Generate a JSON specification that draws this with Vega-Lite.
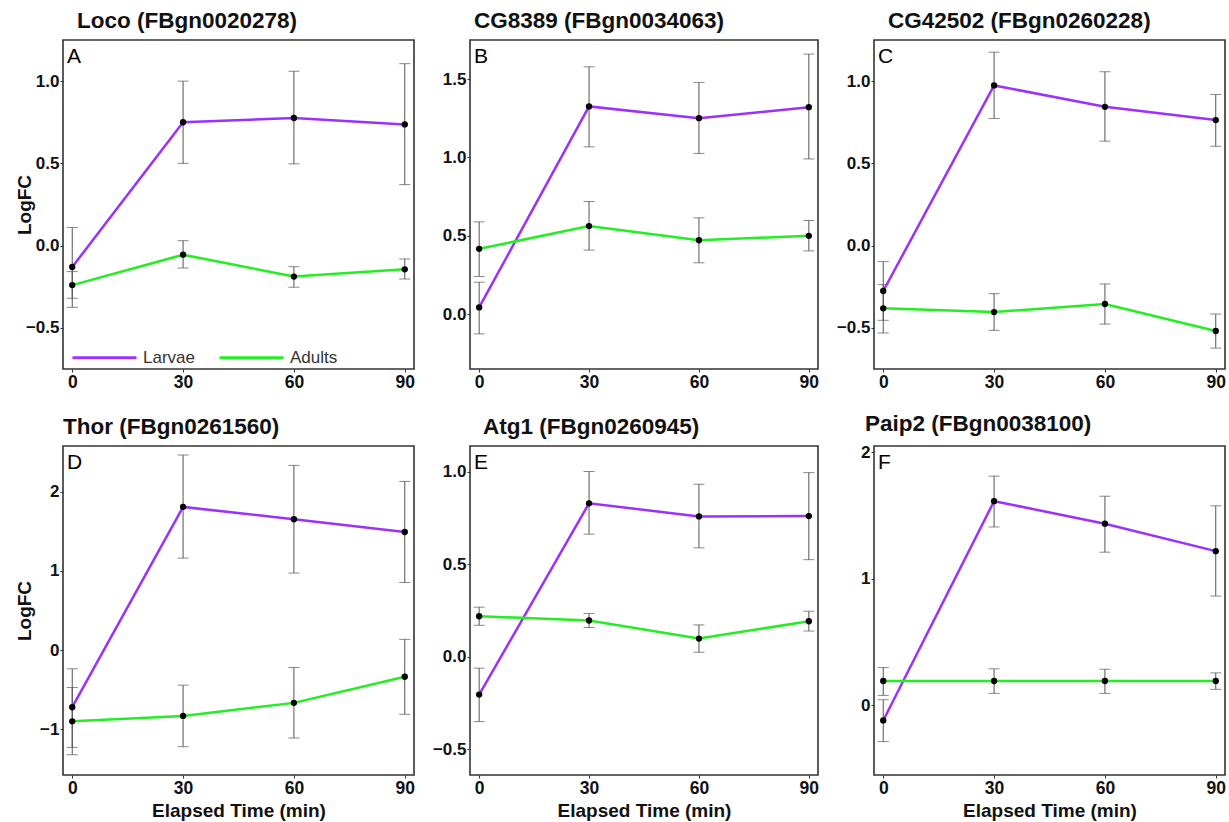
{
  "$schema": "https://vega.github.io/schema/vega-lite/v6.json",
  "autosize": {"type": "pad"},
  "padding": {"left": 14, "top": 8, "right": 2, "bottom": 2},
  "background": "white",
  "datasets": {
    "d": [
      {"p": "A", "s": "Larvae", "t": 0, "m": -0.13, "lo": -0.375, "hi": 0.11},
      {"p": "A", "s": "Larvae", "t": 30, "m": 0.75, "lo": 0.5, "hi": 1.0},
      {"p": "A", "s": "Larvae", "t": 60, "m": 0.776, "lo": 0.497, "hi": 1.06},
      {"p": "A", "s": "Larvae", "t": 90, "m": 0.737, "lo": 0.371, "hi": 1.106},
      {"p": "A", "s": "Adults", "t": 0, "m": -0.24, "lo": -0.32, "hi": -0.158},
      {"p": "A", "s": "Adults", "t": 30, "m": -0.055, "lo": -0.136, "hi": 0.03},
      {"p": "A", "s": "Adults", "t": 60, "m": -0.188, "lo": -0.253, "hi": -0.128},
      {"p": "A", "s": "Adults", "t": 90, "m": -0.144, "lo": -0.203, "hi": -0.081},
      {"p": "B", "s": "Larvae", "t": 0, "m": 0.043, "lo": -0.126, "hi": 0.204},
      {"p": "B", "s": "Larvae", "t": 30, "m": 1.326, "lo": 1.068, "hi": 1.579},
      {"p": "B", "s": "Larvae", "t": 60, "m": 1.251, "lo": 1.026, "hi": 1.479},
      {"p": "B", "s": "Larvae", "t": 90, "m": 1.321, "lo": 0.991, "hi": 1.66},
      {"p": "B", "s": "Adults", "t": 0, "m": 0.417, "lo": 0.24, "hi": 0.589},
      {"p": "B", "s": "Adults", "t": 30, "m": 0.562, "lo": 0.409, "hi": 0.719},
      {"p": "B", "s": "Adults", "t": 60, "m": 0.472, "lo": 0.328, "hi": 0.615},
      {"p": "B", "s": "Adults", "t": 90, "m": 0.5, "lo": 0.404, "hi": 0.598},
      {"p": "C", "s": "Larvae", "t": 0, "m": -0.276, "lo": -0.454, "hi": -0.097},
      {"p": "C", "s": "Larvae", "t": 30, "m": 0.974, "lo": 0.773, "hi": 1.176},
      {"p": "C", "s": "Larvae", "t": 60, "m": 0.844, "lo": 0.635, "hi": 1.057},
      {"p": "C", "s": "Larvae", "t": 90, "m": 0.763, "lo": 0.604, "hi": 0.919},
      {"p": "C", "s": "Adults", "t": 0, "m": -0.381, "lo": -0.531, "hi": -0.237},
      {"p": "C", "s": "Adults", "t": 30, "m": -0.404, "lo": -0.515, "hi": -0.292},
      {"p": "C", "s": "Adults", "t": 60, "m": -0.355, "lo": -0.477, "hi": -0.233},
      {"p": "C", "s": "Adults", "t": 90, "m": -0.519, "lo": -0.623, "hi": -0.416},
      {"p": "D", "s": "Larvae", "t": 0, "m": -0.723, "lo": -1.231, "hi": -0.237},
      {"p": "D", "s": "Larvae", "t": 30, "m": 1.81, "lo": 1.163, "hi": 2.466},
      {"p": "D", "s": "Larvae", "t": 60, "m": 1.654, "lo": 0.973, "hi": 2.335},
      {"p": "D", "s": "Larvae", "t": 90, "m": 1.493, "lo": 0.854, "hi": 2.132},
      {"p": "D", "s": "Adults", "t": 0, "m": -0.901, "lo": -1.324, "hi": -0.474},
      {"p": "D", "s": "Adults", "t": 30, "m": -0.833, "lo": -1.222, "hi": -0.444},
      {"p": "D", "s": "Adults", "t": 60, "m": -0.668, "lo": -1.112, "hi": -0.22},
      {"p": "D", "s": "Adults", "t": 90, "m": -0.338, "lo": -0.812, "hi": 0.135},
      {"p": "E", "s": "Larvae", "t": 0, "m": -0.205, "lo": -0.351, "hi": -0.062},
      {"p": "E", "s": "Larvae", "t": 30, "m": 0.83, "lo": 0.663, "hi": 1.002},
      {"p": "E", "s": "Larvae", "t": 60, "m": 0.759, "lo": 0.589, "hi": 0.933},
      {"p": "E", "s": "Larvae", "t": 90, "m": 0.761, "lo": 0.525, "hi": 0.996},
      {"p": "E", "s": "Adults", "t": 0, "m": 0.219, "lo": 0.17, "hi": 0.268},
      {"p": "E", "s": "Adults", "t": 30, "m": 0.196, "lo": 0.158, "hi": 0.234},
      {"p": "E", "s": "Adults", "t": 60, "m": 0.098, "lo": 0.024, "hi": 0.172},
      {"p": "E", "s": "Adults", "t": 90, "m": 0.192, "lo": 0.139, "hi": 0.246},
      {"p": "F", "s": "Larvae", "t": 0, "m": -0.119, "lo": -0.286, "hi": 0.045},
      {"p": "F", "s": "Larvae", "t": 30, "m": 1.614, "lo": 1.41, "hi": 1.812},
      {"p": "F", "s": "Larvae", "t": 60, "m": 1.436, "lo": 1.211, "hi": 1.653},
      {"p": "F", "s": "Larvae", "t": 90, "m": 1.219, "lo": 0.864, "hi": 1.577},
      {"p": "F", "s": "Adults", "t": 0, "m": 0.193, "lo": 0.079, "hi": 0.299},
      {"p": "F", "s": "Adults", "t": 30, "m": 0.193, "lo": 0.095, "hi": 0.289},
      {"p": "F", "s": "Adults", "t": 60, "m": 0.193, "lo": 0.095, "hi": 0.286},
      {"p": "F", "s": "Adults", "t": 90, "m": 0.193, "lo": 0.127, "hi": 0.257}
    ]
  },
  "columns": 3,
  "spacing": {"row": 77, "column": 56},
  "bounds": "flush",
  "resolve": {"scale": {"color": "independent"}, "legend": {"color": "independent"}},
  "concat": [
    {
      "width": 351, "height": 329,
      "data": {"name": "d"},
      "title": {"text": "Loco (FBgn0020278)", "dx": 14},
      "transform": [{"filter": "datum.p === 'A'"}],
      "encoding": {
        "x": {"field": "t", "type": "quantitative", "scale": {"domain": [-2.5, 92.5], "nice": false, "zero": false}, "axis": {"values": [0, 30, 60, 90], "title": null}},
        "y": {"field": "m", "type": "quantitative", "scale": {"domain": [-0.75, 1.25], "nice": false, "zero": false}, "axis": {"values": [-0.5, 0, 0.5, 1], "format": ".1f", "title": "LogFC", "titleX": -29, "titleY": 164.5}}
      },
      "layer": [
        {"mark": {"type": "errorbar", "color": "#555", "thickness": 1, "ticks": {"size": 11, "thickness": 1, "color": "#555"}},
         "encoding": {"y": {"field": "lo", "type": "quantitative", "scale": {"domain": [-0.75, 1.25], "nice": false, "zero": false}, "axis": {"values": [-0.5, 0, 0.5, 1], "format": ".1f", "title": "LogFC", "titleX": -29, "titleY": 164.5}}, "y2": {"field": "hi"}}},
        {"mark": {"type": "line", "strokeWidth": 2.5},
         "encoding": {"color": {"field": "s", "type": "nominal", "scale": {"domain": ["Larvae", "Adults"], "range": ["#9b30ff", "#22ee22"]},
           "legend": {"title": null, "orient": "none", "legendX": 8, "legendY": 284, "direction": "horizontal", "symbolType": "stroke", "symbolSize": 4096, "symbolStrokeWidth": 3, "labelFontSize": 17, "labelFont": "Liberation Sans", "labelColor": "#333", "labelOffset": 5, "columnPadding": 18, "padding": 0}}}},
        {"mark": {"type": "circle", "size": 40, "color": "black", "opacity": 1}},
        {"transform": [{"filter": "datum.t === 0 && datum.s === 'Larvae'"}],
         "mark": {"type": "text", "text": "A", "align": "left", "baseline": "top", "dx": 4, "dy": 6, "fontSize": 21, "font": "Liberation Sans", "color": "black"},
         "encoding": {"x": {"datum": -2.5}, "y": {"datum": 1.25}}}
      ]
    },
    {
      "width": 348, "height": 329,
      "data": {"name": "d"},
      "title": {"text": "CG8389 (FBgn0034063)", "dx": 4},
      "transform": [{"filter": "datum.p === 'B'"}],
      "encoding": {
        "x": {"field": "t", "type": "quantitative", "scale": {"domain": [-2.5, 92.5], "nice": false, "zero": false}, "axis": {"values": [0, 30, 60, 90], "title": null}},
        "y": {"field": "m", "type": "quantitative", "scale": {"domain": [-0.35, 1.75], "nice": false, "zero": false}, "axis": {"values": [0, 0.5, 1, 1.5], "format": ".1f", "title": null}}
      },
      "layer": [
        {"mark": {"type": "errorbar", "color": "#555", "thickness": 1, "ticks": {"size": 11, "thickness": 1, "color": "#555"}},
         "encoding": {"y": {"field": "lo", "type": "quantitative", "scale": {"domain": [-0.35, 1.75], "nice": false, "zero": false}, "axis": {"values": [0, 0.5, 1, 1.5], "format": ".1f", "title": null}}, "y2": {"field": "hi"}}},
        {"mark": {"type": "line", "strokeWidth": 2.5},
         "encoding": {"color": {"field": "s", "type": "nominal", "scale": {"domain": ["Larvae", "Adults"], "range": ["#9b30ff", "#22ee22"]}, "legend": null}}},
        {"mark": {"type": "circle", "size": 40, "color": "black", "opacity": 1}},
        {"transform": [{"filter": "datum.t === 0 && datum.s === 'Larvae'"}],
         "mark": {"type": "text", "text": "B", "align": "left", "baseline": "top", "dx": 4, "dy": 6, "fontSize": 21, "font": "Liberation Sans", "color": "black"},
         "encoding": {"x": {"datum": -2.5}, "y": {"datum": 1.75}}}
      ]
    },
    {
      "width": 351, "height": 329,
      "data": {"name": "d"},
      "title": {"text": "CG42502 (FBgn0260228)", "dx": 14},
      "transform": [{"filter": "datum.p === 'C'"}],
      "encoding": {
        "x": {"field": "t", "type": "quantitative", "scale": {"domain": [-2.5, 92.5], "nice": false, "zero": false}, "axis": {"values": [0, 30, 60, 90], "title": null}},
        "y": {"field": "m", "type": "quantitative", "scale": {"domain": [-0.75, 1.25], "nice": false, "zero": false}, "axis": {"values": [-0.5, 0, 0.5, 1], "format": ".1f", "title": null}}
      },
      "layer": [
        {"mark": {"type": "errorbar", "color": "#555", "thickness": 1, "ticks": {"size": 11, "thickness": 1, "color": "#555"}},
         "encoding": {"y": {"field": "lo", "type": "quantitative", "scale": {"domain": [-0.75, 1.25], "nice": false, "zero": false}, "axis": {"values": [-0.5, 0, 0.5, 1], "format": ".1f", "title": null}}, "y2": {"field": "hi"}}},
        {"mark": {"type": "line", "strokeWidth": 2.5},
         "encoding": {"color": {"field": "s", "type": "nominal", "scale": {"domain": ["Larvae", "Adults"], "range": ["#9b30ff", "#22ee22"]}, "legend": null}}},
        {"mark": {"type": "circle", "size": 40, "color": "black", "opacity": 1}},
        {"transform": [{"filter": "datum.t === 0 && datum.s === 'Larvae'"}],
         "mark": {"type": "text", "text": "C", "align": "left", "baseline": "top", "dx": 4, "dy": 6, "fontSize": 21, "font": "Liberation Sans", "color": "black"},
         "encoding": {"x": {"datum": -2.5}, "y": {"datum": 1.25}}}
      ]
    },
    {
      "width": 351, "height": 329,
      "data": {"name": "d"},
      "title": {"text": "Thor (FBgn0261560)", "dx": 0},
      "transform": [{"filter": "datum.p === 'D'"}],
      "encoding": {
        "x": {"field": "t", "type": "quantitative", "scale": {"domain": [-2.5, 92.5], "nice": false, "zero": false}, "axis": {"values": [0, 30, 60, 90], "title": "Elapsed Time (min)"}},
        "y": {"field": "m", "type": "quantitative", "scale": {"domain": [-1.58, 2.58], "nice": false, "zero": false}, "axis": {"values": [-1, 0, 1, 2], "format": "d", "title": "LogFC", "titleX": -29, "titleY": 164.5}}
      },
      "layer": [
        {"mark": {"type": "errorbar", "color": "#555", "thickness": 1, "ticks": {"size": 11, "thickness": 1, "color": "#555"}},
         "encoding": {"y": {"field": "lo", "type": "quantitative", "scale": {"domain": [-1.58, 2.58], "nice": false, "zero": false}, "axis": {"values": [-1, 0, 1, 2], "format": "d", "title": "LogFC", "titleX": -29, "titleY": 164.5}}, "y2": {"field": "hi"}}},
        {"mark": {"type": "line", "strokeWidth": 2.5},
         "encoding": {"color": {"field": "s", "type": "nominal", "scale": {"domain": ["Larvae", "Adults"], "range": ["#9b30ff", "#22ee22"]}, "legend": null}}},
        {"mark": {"type": "circle", "size": 40, "color": "black", "opacity": 1}},
        {"transform": [{"filter": "datum.t === 0 && datum.s === 'Larvae'"}],
         "mark": {"type": "text", "text": "D", "align": "left", "baseline": "top", "dx": 4, "dy": 6, "fontSize": 21, "font": "Liberation Sans", "color": "black"},
         "encoding": {"x": {"datum": -2.5}, "y": {"datum": 2.58}}}
      ]
    },
    {
      "width": 348, "height": 329,
      "data": {"name": "d"},
      "title": {"text": "Atg1 (FBgn0260945)", "dx": 13},
      "transform": [{"filter": "datum.p === 'E'"}],
      "encoding": {
        "x": {"field": "t", "type": "quantitative", "scale": {"domain": [-2.5, 92.5], "nice": false, "zero": false}, "axis": {"values": [0, 30, 60, 90], "title": "Elapsed Time (min)"}},
        "y": {"field": "m", "type": "quantitative", "scale": {"domain": [-0.64, 1.14], "nice": false, "zero": false}, "axis": {"values": [-0.5, 0, 0.5, 1], "format": ".1f", "title": null}}
      },
      "layer": [
        {"mark": {"type": "errorbar", "color": "#555", "thickness": 1, "ticks": {"size": 11, "thickness": 1, "color": "#555"}},
         "encoding": {"y": {"field": "lo", "type": "quantitative", "scale": {"domain": [-0.64, 1.14], "nice": false, "zero": false}, "axis": {"values": [-0.5, 0, 0.5, 1], "format": ".1f", "title": null}}, "y2": {"field": "hi"}}},
        {"mark": {"type": "line", "strokeWidth": 2.5},
         "encoding": {"color": {"field": "s", "type": "nominal", "scale": {"domain": ["Larvae", "Adults"], "range": ["#9b30ff", "#22ee22"]}, "legend": null}}},
        {"mark": {"type": "circle", "size": 40, "color": "black", "opacity": 1}},
        {"transform": [{"filter": "datum.t === 0 && datum.s === 'Larvae'"}],
         "mark": {"type": "text", "text": "E", "align": "left", "baseline": "top", "dx": 4, "dy": 6, "fontSize": 21, "font": "Liberation Sans", "color": "black"},
         "encoding": {"x": {"datum": -2.5}, "y": {"datum": 1.14}}}
      ]
    },
    {
      "width": 351, "height": 329,
      "data": {"name": "d"},
      "title": {"text": "Paip2 (FBgn0038100)", "dx": -9},
      "transform": [{"filter": "datum.p === 'F'"}],
      "encoding": {
        "x": {"field": "t", "type": "quantitative", "scale": {"domain": [-2.5, 92.5], "nice": false, "zero": false}, "axis": {"values": [0, 30, 60, 90], "title": "Elapsed Time (min)"}},
        "y": {"field": "m", "type": "quantitative", "scale": {"domain": [-0.55, 2.05], "nice": false, "zero": false}, "axis": {"values": [0, 1, 2], "format": "d", "title": null}}
      },
      "layer": [
        {"mark": {"type": "errorbar", "color": "#555", "thickness": 1, "ticks": {"size": 11, "thickness": 1, "color": "#555"}},
         "encoding": {"y": {"field": "lo", "type": "quantitative", "scale": {"domain": [-0.55, 2.05], "nice": false, "zero": false}, "axis": {"values": [0, 1, 2], "format": "d", "title": null}}, "y2": {"field": "hi"}}},
        {"mark": {"type": "line", "strokeWidth": 2.5},
         "encoding": {"color": {"field": "s", "type": "nominal", "scale": {"domain": ["Larvae", "Adults"], "range": ["#9b30ff", "#22ee22"]}, "legend": null}}},
        {"mark": {"type": "circle", "size": 40, "color": "black", "opacity": 1}},
        {"transform": [{"filter": "datum.t === 0 && datum.s === 'Larvae'"}],
         "mark": {"type": "text", "text": "F", "align": "left", "baseline": "top", "dx": 4, "dy": 6, "fontSize": 21, "font": "Liberation Sans", "color": "black"},
         "encoding": {"x": {"datum": -2.5}, "y": {"datum": 2.05}}}
      ]
    }
  ],
  "config": {
    "font": "Liberation Sans",
    "view": {"stroke": "#333", "strokeWidth": 1.6},
    "axis": {"grid": false, "domain": false, "tickSize": 3, "tickColor": "#333", "tickWidth": 1, "labelFont": "Liberation Sans", "labelFontWeight": "bold", "labelFontSize": 17, "labelColor": "#111", "labelPadding": 1, "titleFont": "Liberation Sans", "titleFontSize": 19, "titleFontWeight": "bold", "titleColor": "#111"},
    "axisX": {"labelFontSize": 17.5, "titlePadding": 5},
    "title": {"font": "Liberation Sans", "fontSize": 22.5, "fontWeight": "bold", "anchor": "start", "frame": "group", "color": "#111", "offset": 8}
  }
}
